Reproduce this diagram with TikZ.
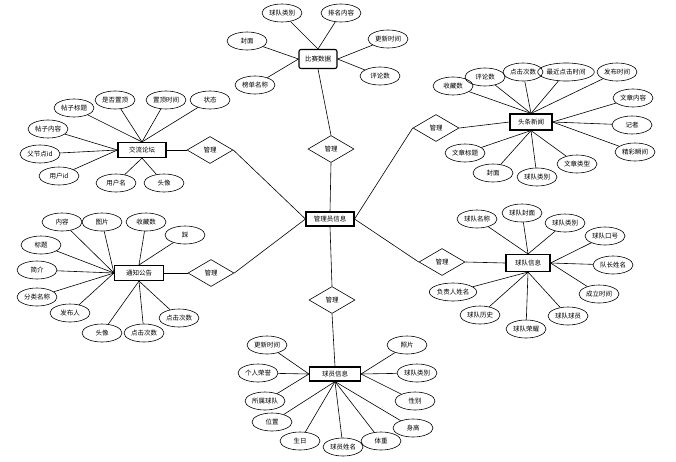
\documentclass[tikz,border=0pt]{standalone}
\usepackage{fontspec}
\newfontfamily\cjk{Noto Sans CJK SC}
\usetikzlibrary{shapes.geometric}

\begin{document}
\begin{tikzpicture}[x=1pt, y=-1pt,
    every node/.style={font=\cjk\fontsize{6.5}{7}\selectfont},
    ent/.style={draw, line width=1.1pt, minimum width=46pt, minimum height=15pt, inner sep=2pt},
    attr/.style={draw, ellipse, line width=0.6pt, minimum width=40pt, minimum height=18pt, inner sep=0.5pt},
    rel/.style={draw, diamond, line width=0.6pt, minimum width=46pt, minimum height=27pt, inner sep=0pt},
    link/.style={line width=0.6pt}]
  \useasboundingbox (0,0) rectangle (676,461);
  \node[ent, minimum width=48pt, minimum height=14pt] (admin) at (330,219) {管理员信息};
  \node[ent, rounded corners=2pt, minimum width=38pt, minimum height=19pt] (match) at (318,59) {比赛数据};
  \node[ent, minimum width=48pt] (forum) at (142,150) {交流论坛};
  \node[ent, minimum width=42pt, minimum height=16pt] (news) at (531,122) {头条新闻};
  \node[ent, minimum width=49pt] (notice) at (139,273) {通知公告};
  \node[ent, minimum width=44pt, minimum height=17pt] (team) at (528,263) {球队信息};
  \node[ent, minimum width=51pt, minimum height=14pt] (player) at (335,374) {球员信息};
  \node[rel] (r1) at (331,149) {管理};
  \node[rel] (r2) at (210,150) {管理};
  \node[rel] (r3) at (211,273) {管理};
  \node[rel] (r4) at (436,128) {管理};
  \node[rel] (r5) at (442,262) {管理};
  \node[rel] (r6) at (332,300) {管理};
  \draw[link] (match.south) -- (r1.north);
  \draw[link] (r1.south) -- (admin.north);
  \draw[link] (forum.east) -- (r2.west);
  \draw[link] (r2.east) -- (admin.west);
  \draw[link] (notice.east) -- (r3.west);
  \draw[link] (r3.east) -- (admin.west);
  \draw[link] (news.west) -- (r4.east);
  \draw[link] (r4.west) -- (admin.east);
  \draw[link] (team.west) -- (r5.east);
  \draw[link] (r5.west) -- (admin.east);
  \draw[link] (admin.south) -- (r6.north);
  \draw[link] (r6.south) -- (player.north);
  \foreach \t/\x/\y/\a [count=\k] in {球队类别/282/13/north, 排名内容/341/13/north, 封面/247/41/west,
      榜单名称/255/85/west, 更新时间/388/39/east, 评论数/380/76/east} {
    \node[attr] (mt\k) at (\x,\y) {\t};
    \draw[link] (match.\a) -- (mt\k);
  }
  \foreach \t/\x/\y/\a [count=\k] in {帖子标题/74/108/north, 是否置顶/115/100/north, 置顶时间/166/100/north,
      状态/210/100/north, 帖子内容/48/129/west, 父节点id/40/154/west, 用户id/59/176/west,
      用户名/116/183/south, 头像/164/183/south} {
    \node[attr] (fr\k) at (\x,\y) {\t};
    \draw[link] (forum.\a) -- (fr\k);
  }
  \foreach \t/\x/\y/\a [count=\k] in {收藏数/453/86/north, 评论数/485/77/north, 点击次数/523/72/north,
      最近点击时间/566/72/north, 发布时间/617/72/north, 文章内容/633/98/east, 记者/632/125/east,
      精彩瞬间/635/152/east, 文章标题/465/153/south, 封面/493/173/south, 球队类别/537/177/south,
      文章类型/577/164/south} {
    \node[attr] (nw\k) at (\x,\y) {\t};
    \draw[link] (news.\a) -- (nw\k);
  }
  \foreach \t/\x/\y/\a [count=\k] in {内容/62/222/west, 图片/102/222/west, 收藏数/146/222/north,
      踩/185/235/north, 标题/41/245/west, 简介/37/270/west, 分类名称/37/297/west, 发布人/70/313/west,
      头像/102/333/south, 点击次数/144/333/south, 点击次数/179/318/south} {
    \node[attr] (nt\k) at (\x,\y) {\t};
    \draw[link] (notice.\a) -- (nt\k);
  }
  \foreach \t/\x/\y/\a [count=\k] in {球队名称/477/219/north, 球队封面/522/213/north, 球队类别/565/223/north,
      球队口号/605/236/east, 队长姓名/613/265/east, 成立时间/599/294/east, 球队球员/568/316/south,
      球队荣耀/526/329/south, 球队历史/480/315/south, 负责人姓名/453/292/south} {
    \node[attr] (tm\k) at (\x,\y) {\t};
    \draw[link] (team.\a) -- (tm\k);
  }
  \foreach \t/\x/\y/\a [count=\k] in {更新时间/267/345/west, 个人荣誉/258/373/west, 所属球队/265/401/west,
      照片/407/345/east, 球队类别/417/373/east, 性别/415/401/east, 身高/413/428/south,
      体重/381/441/south, 球员姓名/343/447/south, 生日/300/441/south, 位置/272/422/south} {
    \node[attr] (pl\k) at (\x,\y) {\t};
    \draw[link] (player.\a) -- (pl\k);
  }
\end{tikzpicture}
\end{document}
